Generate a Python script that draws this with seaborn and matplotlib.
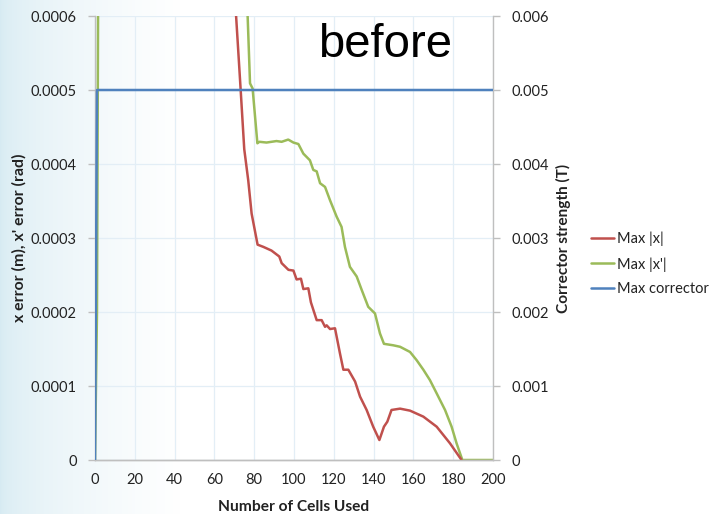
import numpy as np
import pandas as pd
import matplotlib
matplotlib.use("Agg")
import matplotlib.pyplot as plt
import seaborn as sns
from matplotlib.lines import Line2D

# ---------------- data ----------------
red_cells = [0, 70.9, 73.2, 75, 77, 78.7, 81.7, 84.6, 88.7, 92.6, 93.8, 97.2, 99.7,
             101.3, 103.5, 104.7, 107.2, 108.5, 111.4, 113.9, 115.6, 116.4, 118.1,
             120.6, 123.1, 124.8, 127.3, 130.7, 133.2, 136.5, 139.8, 142.9, 145.2,
             146.9, 149, 153.3, 158.3, 165, 171.7, 178.4, 184.2]
max_x = [0.002, 0.0006, 0.0005, 0.00042, 0.000378, 0.000333, 0.000291, 0.000288,
         0.000283, 0.000275, 0.000266, 0.000257, 0.000256, 0.000244, 0.000245,
         0.000231, 0.000232, 0.000213, 0.000189, 0.000189, 0.00018, 0.000182,
         0.000177, 0.000178, 0.000144, 0.000122, 0.000122, 0.000106, 0.0000856,
         0.0000676, 0.000045, 0.000027, 0.000045, 0.0000518, 0.0000676, 0.0000694,
         0.0000667, 0.0000586, 0.000045, 0.0000225, 0.0]

green_cells = [0, 1, 1.8, 40, 76.7, 77.9, 79.2, 81.6, 82.6, 86.2, 91.2, 93.8, 97.1,
               99.7, 102.2, 104.7, 108, 109.7, 111.4, 113.1, 115.6, 118.1, 121.4,
               123.9, 125.6, 128.1, 131.5, 134, 137.3, 140.7, 143.2, 145.2, 149.9,
               153.3, 158.3, 161.6, 165, 168.3, 171.7, 175.9, 179.2, 181.7, 184.6, 200]
max_xp = [0, 0.0002, 0.0008, 0.002, 0.0006, 0.000509, 0.000502, 0.000428, 0.00043,
          0.000429, 0.000431, 0.00043, 0.000433, 0.000429, 0.000427, 0.000414,
          0.000405, 0.000392, 0.00039, 0.000374, 0.000369, 0.000351, 0.000329,
          0.000315, 0.000288, 0.000261, 0.000248, 0.00023, 0.000207, 0.000198,
          0.000171, 0.000157, 0.000155, 0.000153, 0.000146, 0.000135, 0.000122,
          0.000108, 0.00009, 0.0000676, 0.000045, 0.0000225, 0.0, 0.0]

blue_cells = [0, 1, 200]
max_corr = [0, 0.005, 0.005]

x_ticks = [0, 20, 40, 60, 80, 100, 120, 140, 160, 180, 200]
left_ticks = [0, 0.0001, 0.0002, 0.0003, 0.0004, 0.0005, 0.0006]
left_labels = ["0", "0.0001", "0.0002", "0.0003", "0.0004", "0.0005", "0.0006"]
right_ticks = [0, 0.001, 0.002, 0.003, 0.004, 0.005, 0.006]
right_labels = ["0", "0.001", "0.002", "0.003", "0.004", "0.005", "0.006"]

series_names = ["Max |x|", "Max |x'|", "Max corrector"]
colors = ["#C0504D", "#9BBB59", "#4F81BD"]

# ---------------- style ----------------
sns.set_theme(style="white")
plt.rcParams['font.family'] = ['Lato', 'DejaVu Sans']
TXT = "#222222"
GRID = "#e3eef6"
SPINE = "#bfbfbf"

fig = plt.figure(figsize=(7.12, 5.14), dpi=100)
fig.patch.set_facecolor("white")

# slide-like background gradient
bg = fig.add_axes([0, 0, 1, 1], zorder=-10)
w = 712
grad = np.ones((2, w, 3))
xs = np.arange(w)
t = np.clip(xs / 180.0, 0, 1)
start = np.array([0.84, 0.92, 0.95])
end = np.array([1.0, 1.0, 1.0])
for i in range(3):
    grad[:, :, i] = start[i] + (end[i] - start[i]) * (t ** 0.55)
bg.imshow(grad, aspect="auto", extent=[0, 1, 0, 1])
bg.set_axis_off()

ax = fig.add_axes([95 / 712, 54 / 514, 398 / 712, 444 / 514])
ax.set_facecolor((1, 1, 1, 0))
ax2 = ax.twinx()

df_r = pd.DataFrame({"cells": red_cells, "v": max_x})
df_g = pd.DataFrame({"cells": green_cells, "v": max_xp})
df_b = pd.DataFrame({"cells": blue_cells, "v": max_corr})

sns.lineplot(data=df_r, x="cells", y="v", ax=ax, color=colors[0], lw=1.8,
             sort=False, estimator=None, zorder=3)
sns.lineplot(data=df_g, x="cells", y="v", ax=ax, color=colors[1], lw=1.8,
             sort=False, estimator=None, zorder=2)
sns.lineplot(data=df_b, x="cells", y="v", ax=ax2, color=colors[2], lw=1.8,
             sort=False, estimator=None, zorder=4)

ax.set_xlim(0, 200)
ax.set_ylim(0, 0.0006)
ax2.set_ylim(0, 0.006)

ax.set_xticks(x_ticks)
ax.set_xticklabels([str(v) for v in x_ticks])
ax.set_yticks(left_ticks)
ax.set_yticklabels(left_labels)
ax2.set_yticks(right_ticks)
ax2.set_yticklabels(right_labels)

ax.grid(True, color=GRID, lw=0.9)
ax.set_axisbelow(True)

for a in (ax, ax2):
    a.spines["top"].set_visible(False)
    for s in ("left", "right", "bottom"):
        a.spines[s].set_color(SPINE)
        a.spines[s].set_linewidth(1.0)
    a.tick_params(colors=SPINE, labelcolor=TXT, labelsize=10.5, length=5,
                  width=1.0, direction="out")
ax.spines["right"].set_visible(False)
ax2.spines["left"].set_visible(False)
ax.tick_params(axis="y", pad=8)
ax2.tick_params(axis="y", pad=8)
ax.tick_params(axis="x", pad=4)

ax.set_xlabel("Number of Cells Used", fontsize=11.2, fontweight="bold", color=TXT, labelpad=10)
ax.set_ylabel("x error (m), x' error (rad)", fontsize=11.4, fontweight="bold", color=TXT, labelpad=3)
ax2.set_ylabel("Corrector strength (T)", fontsize=11.1, fontweight="bold", color=TXT, labelpad=5)

handles = [Line2D([0], [0], color=c, lw=1.8) for c in colors]
fig.legend(handles, series_names, loc="center left", bbox_to_anchor=(578 / 712, 1 - 264 / 514),
           frameon=False, fontsize=10.5, handlelength=1.6, handletextpad=0.2,
           labelspacing=0.75, labelcolor=TXT)

fig.text(385 / 712, 1 - 57 / 514, "before", fontsize=34, ha="center", va="baseline",
         family=["Liberation Sans", "DejaVu Sans"], color="black")

fig.savefig("out.png", dpi=100)
